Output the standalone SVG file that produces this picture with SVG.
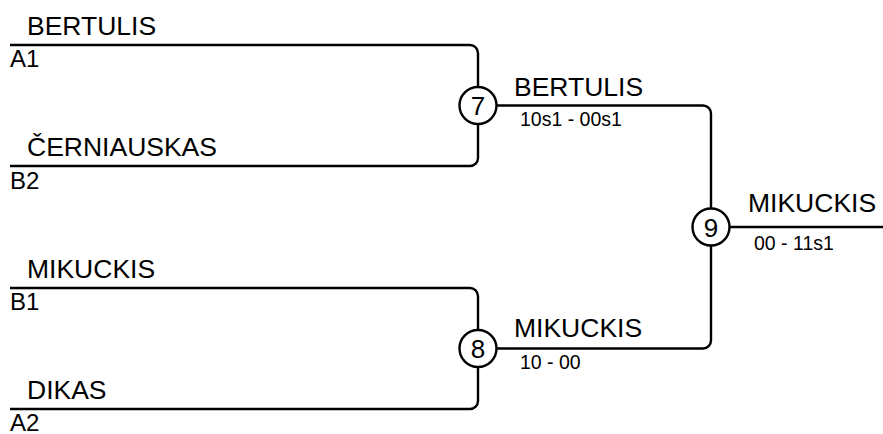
<svg xmlns="http://www.w3.org/2000/svg" width="883" height="434" viewBox="0 0 883 434">
<style>
.ln{fill:none;stroke:#000;stroke-width:2.4}
.nd{fill:#fff;stroke:#000;stroke-width:2.4}
.nm{font-family:"Liberation Sans",Arial,sans-serif;font-size:26.5px;fill:#000}
.sd{font-family:"Liberation Sans",Arial,sans-serif;font-size:24px;fill:#000}
.sc{font-family:"Liberation Sans",Arial,sans-serif;font-size:19.5px;fill:#000}
.num{font-family:"Liberation Sans",Arial,sans-serif;font-size:26px;fill:#000;text-anchor:middle}
</style>
<rect width="883" height="434" fill="#fff"/>
<g id="connectors">
<path class="ln" d="M10,45 H470 A8,8 0 0 1 478,53 V87"/>
<path class="ln" d="M478,124 V158 A8,8 0 0 1 470,166 H10"/>
<path class="ln" d="M10,288 H470 A8,8 0 0 1 478,296 V330"/>
<path class="ln" d="M478,367 V401 A8,8 0 0 1 470,409 H10"/>
<path class="ln" d="M496.5,105.5 H703 A8,8 0 0 1 711,113.5 V208.5"/>
<path class="ln" d="M496.5,348.5 H703 A8,8 0 0 0 711,340.5 V245.5"/>
<path class="ln" d="M729.5,227 H883"/>
</g>
<g id="entry-a1">
<text class="nm" x="27" y="35">BERTULIS</text>
<text class="sd" x="10" y="67">A1</text>
</g>
<g id="entry-b2">
<text class="nm" x="27" y="156">ČERNIAUSKAS</text>
<text class="sd" x="10" y="189">B2</text>
</g>
<g id="entry-b1">
<text class="nm" x="27" y="278">MIKUCKIS</text>
<text class="sd" x="10" y="310">B1</text>
</g>
<g id="entry-a2">
<text class="nm" x="27" y="399">DIKAS</text>
<text class="sd" x="10" y="431">A2</text>
</g>
<g id="match-7">
<circle class="nd" cx="478" cy="105.5" r="18.5"/>
<text class="num" x="478" y="115">7</text>
<text class="nm" x="514" y="96">BERTULIS</text>
<text class="sc" x="520" y="126">10s1 - 00s1</text>
</g>
<g id="match-8">
<circle class="nd" cx="478" cy="348.5" r="18.5"/>
<text class="num" x="478" y="358">8</text>
<text class="nm" x="514" y="337">MIKUCKIS</text>
<text class="sc" x="520" y="369">10 - 00</text>
</g>
<g id="match-9">
<circle class="nd" cx="711" cy="227" r="18.5"/>
<text class="num" x="711" y="236.5">9</text>
<text class="nm" x="748" y="212">MIKUCKIS</text>
<text class="sc" x="754" y="250">00 - 11s1</text>
</g>
</svg>
